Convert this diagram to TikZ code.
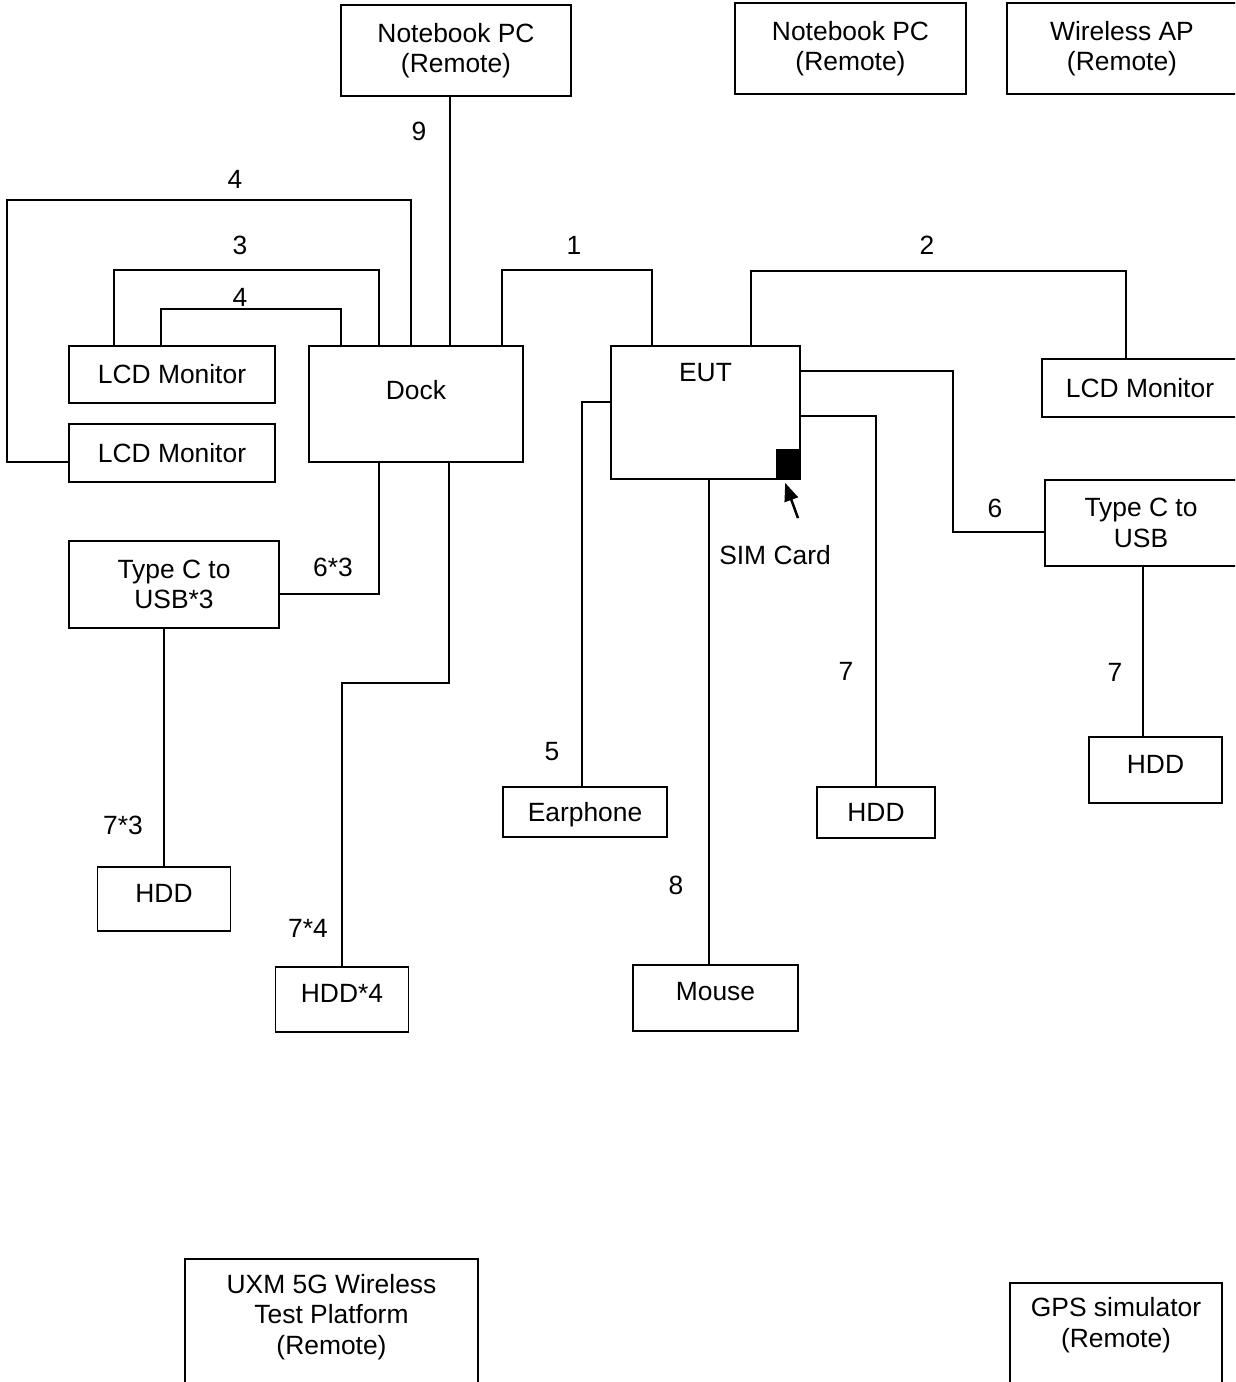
\documentclass[tikz,border=0pt]{standalone}
\usepackage{fontspec}
\setmainfont{Liberation Sans}
\usepackage{tikz}
\usetikzlibrary{arrows.meta, calc, positioning}
\tikzset{
  box/.style={draw, line width=1.8pt, inner sep=0pt, align=center, font=\fontsize{26.4}{30.5}\selectfont},
  txt/.style={inner sep=0pt, align=center, font=\fontsize{26.4}{30.5}\selectfont},
  cable/.style={line width=1.8pt},
  simarrow/.style={line width=2.5pt, -{Triangle[length=18pt,width=14pt]}}
}

\begin{document}
\begin{tikzpicture}[x=1pt, y=-1pt]
  \path[use as bounding box, clip] (0,0) rectangle (1235,1382);

  % remote units on top
  \node (nbA) [box, minimum width=230pt, minimum height=91pt] at (456,50.5) {Notebook PC\\(Remote)};
  \node (nbB) [box, minimum width=231pt, minimum height=91pt] at (850.5,48.5) {Notebook PC\\(Remote)};
  \node (wap) [box, minimum width=230pt, minimum height=91pt] at (1122,48.5) {Wireless AP\\(Remote)};

  % monitors, dock and EUT
  \node (lcdA) [box, minimum width=206pt, minimum height=57pt] at (172,374.5) {LCD Monitor};
  \node (lcdB) [box, minimum width=206pt, minimum height=58pt] at (172,453) {LCD Monitor};
  \node (dock) [box, minimum width=214pt, minimum height=116pt] at (416,404) {};
  \node (dockT) [txt, yshift=14pt] at (dock) {Dock};
  \node (eut) [box, minimum width=189pt, minimum height=133pt] at (705.5,412.5) {};
  \node (eutT) [txt, yshift=39.5pt] at (eut) {EUT};
  \node (sim) [fill, inner sep=0pt, minimum width=25pt, minimum height=31pt, anchor=south east] at (eut.south east) {};
  \node (simT) [txt] at (775,555) {SIM Card};
  \node (lcdC) [box, minimum width=196pt, minimum height=58pt] at (1140,388) {LCD Monitor};

  % adapters and peripherals
  \node (usbR) [box, minimum width=192pt, minimum height=86pt] at (1141,523) {Type C to\\USB};
  \node (usbL) [box, minimum width=210pt, minimum height=87pt] at (174,584.5) {Type C to\\USB*3};
  \node (hddR) [box, minimum width=133pt, minimum height=66pt] at (1155.5,770) {};
  \node (hddRT) [txt, yshift=6pt] at (hddR) {HDD};
  \node (hddM) [box, minimum width=118pt, minimum height=51pt] at (876,812.5) {HDD};
  \node (ear) [box, text depth=0pt, minimum width=164pt, minimum height=50pt] at (585,812) {Earphone};
  \node (hddL) [box, minimum width=133pt, minimum height=64pt] at (164,899) {};
  \node (hddLT) [txt, yshift=6pt] at (hddL) {HDD};
  \node (hddF) [box, minimum width=133pt, minimum height=65pt] at (342,999.5) {};
  \node (hddFT) [txt, yshift=6.5pt] at (hddF) {HDD*4};
  \node (mouse) [box, minimum width=165pt, minimum height=66pt] at (715.5,998) {};
  \node (mouseT) [txt, yshift=6pt] at (mouse) {Mouse};

  % remote units at the bottom
  \node (uxm) [box, minimum width=293pt, minimum height=141pt] at (331.5,1329.5) {};
  \node (uxmT) [txt, yshift=12.5pt] at (uxm) {UXM 5G Wireless\\Test Platform\\(Remote)};
  \node (gps) [box, minimum width=212pt, minimum height=117pt] at (1116,1341.5) {};
  \node (gpsT) [txt, yshift=16.5pt] at (gps) {GPS simulator\\(Remote)};

  % cables
  \draw[cable] ([xshift=-6pt]nbA.south) -- ([xshift=-6pt]nbA.south |- dock.north);
  \draw[cable] ([xshift=103pt]dock.north west) -- ++(0,-145) -- ++(-404,0) |- ([yshift=-9pt]lcdB.west);
  \draw[cable] ([xshift=71pt]dock.north west) -- ++(0,-75) -| ([xshift=46pt]lcdA.north west);
  \draw[cable] ([xshift=33pt]dock.north west) -- ++(0,-36) -| ([xshift=93pt]lcdA.north west);
  \draw[cable] ([xshift=194pt]dock.north west) -- ++(0,-75) -| ([xshift=42pt]eut.north west);
  \draw[cable] ([xshift=141pt]eut.north west) -- ++(0,-74) -| ([xshift=85pt]lcdC.north west);
  \draw[cable] ([yshift=-26pt]eut.north east) -- ++(152,0) |- ([yshift=-9pt]usbR.west);
  \draw[cable] ([yshift=-71pt]eut.north east) -| (hddM.north);
  \draw[cable] ([xshift=2pt]usbR.south) -- ([xshift=2pt]usbR.south |- hddR.north);
  \draw[cable] ([yshift=-57pt]eut.north west) -| ([xshift=-3pt]ear.north);
  \draw[cable] ([xshift=99pt]eut.south west) -- ([xshift=99pt]eut.south west |- mouse.north);
  \draw[cable] ([xshift=71pt]dock.south west) |- ([yshift=-9.5pt]usbL.east);
  \draw[cable] (usbL.south -| hddL.north) -- (hddL.north);
  \draw[cable] ([xshift=141pt]dock.south west) -- ++(0,220) -| (hddF.north);
  \draw[simarrow] ([xshift=23pt,yshift=27pt]simT.north) -- ([xshift=-3pt,yshift=-3pt]sim.south);

  % cable numbers
  \node (n9) [txt] at (419,131) {9};
  \node (n4a) [txt] at (235,179) {4};
  \node (n3) [txt] at (240,245) {3};
  \node (n4b) [txt] at (240,297) {4};
  \node (n1) [txt] at (574,245) {1};
  \node (n2) [txt] at (927,245) {2};
  \node (n6) [txt] at (995,508) {6};
  \node (n7a) [txt] at (846,671) {7};
  \node (n7b) [txt] at (1115,672) {7};
  \node (n5) [txt] at (552,752) {5};
  \node (n8) [txt] at (676,885) {8};
  \node (n63) [txt] at (333,567) {6*3};
  \node (n73) [txt] at (123,825) {7*3};
  \node (n74) [txt] at (308,928) {7*4};
\end{tikzpicture}
\end{document}
